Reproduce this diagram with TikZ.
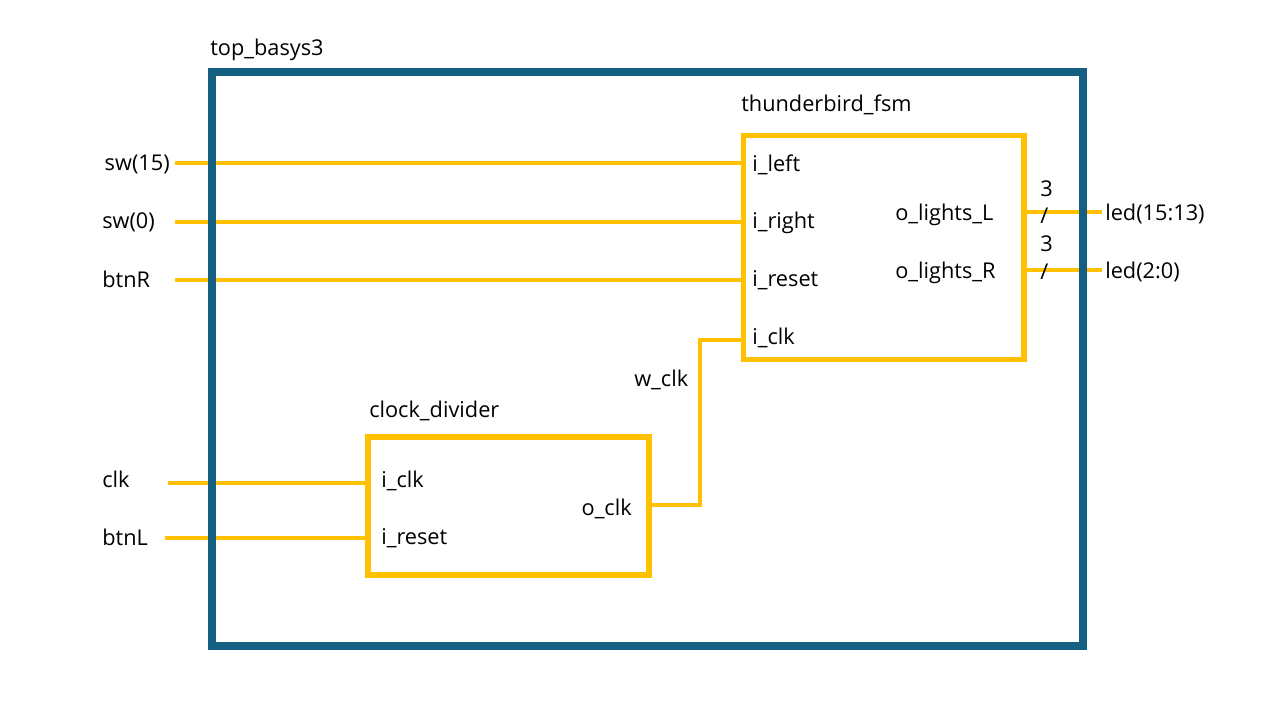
\documentclass[tikz,border=0pt]{standalone}
\usepackage{fontspec}
\setmainfont{Open Sans}
\definecolor{wire}{HTML}{FFC000}
\definecolor{topblue}{HTML}{156082}
\begin{document}
\begin{tikzpicture}[x=0.75pt,y=-0.75pt,
  lbl/.style={inner sep=0pt,yshift=-1.2pt,font=\fontsize{16.3}{18}\selectfont,text=black},
  wireln/.style={draw=wire,line width=3pt},
  blockbox/.style={draw=wire,line width=4.4pt,inner sep=0pt,outer sep=0pt},
  topbox/.style={draw=topblue,line width=6pt,inner sep=0pt,outer sep=0pt}]
\useasboundingbox (0,0) rectangle (1280,720);
% blocks
\node[blockbox,minimum width=280.5*0.75pt,minimum height=224*0.75pt,anchor=north west] (fsm) at (743.5,135.5) {};
\node[blockbox,minimum width=281*0.75pt,minimum height=138*0.75pt,anchor=north west] (cd) at (368,437) {};
% coordinates
\coordinate (sw15) at (175,163);
\coordinate (sw0) at (175,222);
\coordinate (btnR) at (175,280);
\coordinate (clkin) at (168,483);
\coordinate (btnLin) at (165,538);
\coordinate (ledL) at (1102,212);
\coordinate (ledR) at (1102,270);
% wires
\draw[wireln] (sw15) -- (sw15 -| fsm.west);
\draw[wireln] (sw0) -- (sw0 -| fsm.west);
\draw[wireln] (btnR) -- (btnR -| fsm.west);
\draw[wireln] (clkin) -- (clkin -| cd.west);
\draw[wireln] (btnLin) -- (btnLin -| cd.west);
\draw[wireln] (cd.east |- 0,505) -- (700,505) -- (700,340) -- (fsm.west |- 0,340);
\draw[wireln] (fsm.east |- ledL) -- (ledL);
\draw[wireln] (fsm.east |- ledR) -- (ledR);
% redraw blocks on top of wire ends
\node[blockbox,minimum width=280.5*0.75pt,minimum height=224*0.75pt,anchor=north west] (fsm2) at (743.5,135.5) {};
\node[blockbox,minimum width=281*0.75pt,minimum height=138*0.75pt,anchor=north west] (cd2) at (368,437) {};
% top box
\node[topbox,minimum width=871*0.75pt,minimum height=574*0.75pt,anchor=north west] (top) at (212,72) {};
% labels
\node[lbl,anchor=west] (ttop) at (210,48) {top\_basys3};
\node[lbl,anchor=west] (tfsm) at (741,103) {thunderbird\_fsm};
\node[lbl,anchor=west] (tcd) at (369,409) {clock\_divider};
\node[lbl,anchor=east] (lsw15) at (170,163) {sw(15)};
\node[lbl,anchor=west] (lsw0) at (102,221) {sw(0)};
\node[lbl,anchor=west] (lbtnR) at (102,278) {btnR};
\node[lbl,anchor=west] (lclk) at (102,478) {clk};
\node[lbl,anchor=west] (lbtnL) at (102,536) {btnL};
\node[lbl,anchor=west] (pil) at (752,163) {i\_left};
\node[lbl,anchor=west] (pir) at (752,221) {i\_right};
\node[lbl,anchor=west] (pirs) at (752,279) {i\_reset};
\node[lbl,anchor=west] (pic) at (752,336) {i\_clk};
\node[lbl,anchor=west] (pol) at (895,213) {o\_lights\_L};
\node[lbl,anchor=west] (por) at (895,271) {o\_lights\_R};
\node[lbl,anchor=west] (cic) at (381,479) {i\_clk};
\node[lbl,anchor=west] (cir) at (381,537) {i\_reset};
\node[lbl,anchor=east] (coc) at (632,507) {o\_clk};
\node[lbl,anchor=west] (wclk) at (634,378) {w\_clk};
\node[lbl,anchor=west] (n3a) at (1040,187) {3};
\node[lbl,anchor=west] (sla) at (1040,214) {/};
\node[lbl,anchor=west] (n3b) at (1040,242) {3};
\node[lbl,anchor=west] (slb) at (1040,270) {/};
\node[lbl,anchor=west] (lledL) at (1105,212) {led(15:13)};
\node[lbl,anchor=west] (lledR) at (1105,270) {led(2:0)};
\end{tikzpicture}
\end{document}
